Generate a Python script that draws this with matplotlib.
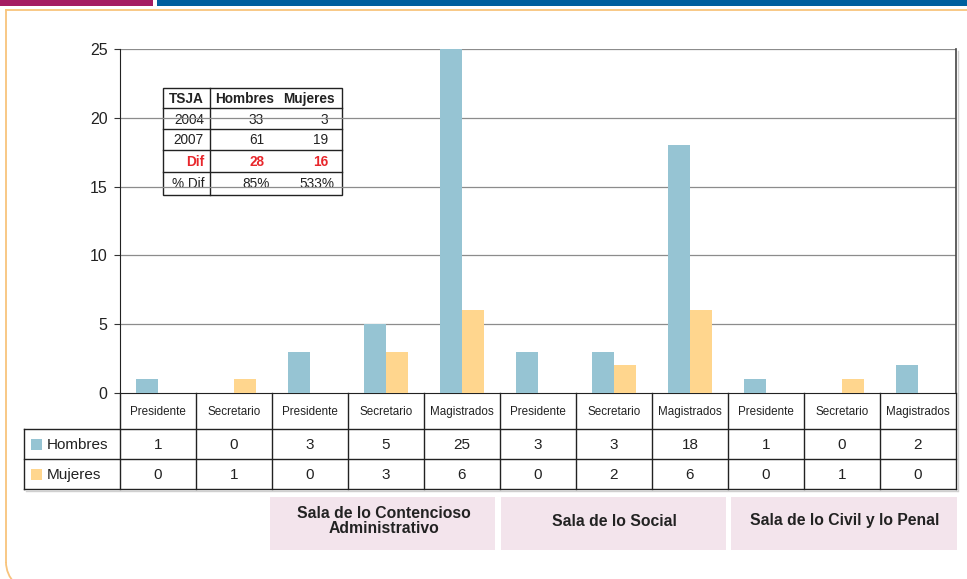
import matplotlib
matplotlib.use("Agg")
import matplotlib.pyplot as plt
from matplotlib.patches import Rectangle, Arc
import numpy as np

# ---------------- data ----------------
categories = ["Presidente", "Secretario", "Presidente", "Secretario", "Magistrados",
              "Presidente", "Secretario", "Magistrados", "Presidente", "Secretario", "Magistrados"]
hombres = [1, 0, 3, 5, 25, 3, 3, 18, 1, 0, 2]
mujeres = [0, 1, 0, 3, 6, 0, 2, 6, 0, 1, 0]
series_names = ["Hombres", "Mujeres"]
salas = ["Sala de lo Contencioso\nAdministrativo", "Sala de lo Social", "Sala de lo Civil y lo Penal"]
yticks = [0, 5, 10, 15, 20, 25]

inset_header = ["TSJA", "Hombres", "Mujeres"]
inset_rows = ["2004", "2007", "Dif", "% Dif"]
inset_h = ["33", "61", "28", "85%"]
inset_m = ["3", "19", "16", "533%"]

# ---------------- style ----------------
C_H = "#96C4D3"
C_M = "#FFD68E"
RED = "#E8272C"
PINK = "#F3E4EC"
SANS = ["Liberation Sans", "DejaVu Sans"]
TXT = "#222222"

W, H = 967, 579
fig = plt.figure(figsize=(W / 100, H / 100), dpi=100)

# overlay in pixel coordinates
ov = fig.add_axes([0, 0, 1, 1], zorder=0)
ov.set_xlim(0, W)
ov.set_ylim(H, 0)
ov.axis("off")

# header bars
ov.add_patch(Rectangle((0, 0), 153, 5.5, color="#A51C62", lw=0))
ov.add_patch(Rectangle((157, 0), W - 157, 5.5, color="#005F9E", lw=0))
# orange frame
OR = "#F8C47C"
r = 30
ov.plot([6, W], [9.5, 9.5], color=OR, lw=1.3)
ov.plot([6, 6], [9.5, 592 - r], color=OR, lw=1.3)
ov.add_patch(Arc((6 + r, 592 - r), 2 * r, 2 * r, theta1=90, theta2=180,
                 color=OR, lw=1.3))

# ---------------- chart axes ----------------
X0, X1, Y0, Y1 = 120, 956, 49, 393
ax = fig.add_axes([X0 / W, (H - Y1) / H, (X1 - X0) / W, (Y1 - Y0) / H], zorder=2)
ax.patch.set_alpha(0)
n = len(categories)
x = np.arange(n)
bw = 0.296
ax.bar(x - bw / 2, hombres, bw, color=C_H, clip_on=False, zorder=3)
ax.bar(x + bw / 2, mujeres, bw, color=C_M, clip_on=False, zorder=3)
ax.set_xlim(-0.5, n - 0.5)
ax.set_ylim(0, 25)
ax.set_yticks(yticks)
ax.set_yticklabels([str(v) for v in yticks], fontfamily=SANS, fontsize=11.5, color=TXT)
ax.set_xticks([])
ax.tick_params(axis="y", direction="out", length=4, width=0.8, pad=5, color="#333333")
for v in yticks[1:]:
    ax.axhline(v, color="#8C8C8C", lw=0.9, zorder=1)
ax.spines["top"].set_visible(False)
ax.spines["left"].set_color(TXT)
ax.spines["bottom"].set_color(TXT)
ax.spines["right"].set_color("#444444")
ax.spines["right"].set_linewidth(1.2)

# ---------------- data table below ----------------
colw = (X1 - X0) / n
R0, R1, R2, R3 = 393, 429, 459, 489
LC = "#222222"
for i in range(n + 1):
    xx = X0 + i * colw
    ov.plot([xx, xx], [R0, R3], color=LC, lw=1)
ov.plot([24, 24], [R1, R3], color=LC, lw=1)
for yy in (R1, R2, R3):
    ov.plot([24, X1], [yy, yy], color=LC, lw=1)
ov.plot([26, X1 + 1], [R3 + 2, R3 + 2], color="#D0D0D0", lw=1)
ov.plot([X1 + 2, X1 + 2], [Y0 + 2, R3 + 2], color="#D0D0D0", lw=1)

for i, c in enumerate(categories):
    cx = X0 + (i + 0.5) * colw
    ov.text(cx, (R0 + R1) / 2 + 1, c, ha="center", va="center",
            fontfamily=SANS, fontsize=8.4, color=TXT)
    ov.text(cx, (R1 + R2) / 2 + 1, str(hombres[i]), ha="center", va="center",
            fontfamily=SANS, fontsize=11, color=TXT)
    ov.text(cx, (R2 + R3) / 2 + 1, str(mujeres[i]), ha="center", va="center",
            fontfamily=SANS, fontsize=11, color=TXT)

for j, (name, col) in enumerate(zip(series_names, [C_H, C_M])):
    yc = (R1 + R2) / 2 if j == 0 else (R2 + R3) / 2
    ov.add_patch(Rectangle((31, yc - 5.5), 11, 11, color=col, lw=0))
    ov.text(47, yc + 1, name, ha="left", va="center", fontfamily=SANS,
            fontsize=11, color=TXT)

# ---------------- sala boxes ----------------
boxes = [(270, 495), (501, 726), (731, 957)]
for (bx0, bx1), label in zip(boxes, salas):
    ov.add_patch(Rectangle((bx0, 497), bx1 - bx0, 53, color=PINK, lw=0))
    ov.text((bx0 + bx1) / 2 + 1, 521, label, ha="center", va="center",
            fontfamily=SANS, fontweight="bold", fontsize=11.3, color=TXT,
            linespacing=0.92)

# ---------------- inset table ----------------
TX0, TX1, TXs = 163, 342, 210
ty = [88, 108, 129, 150, 172, 195]
ov.add_patch(Rectangle((TX0, ty[0]), TX1 - TX0, ty[-1] - ty[0], facecolor="white",
                       edgecolor=LC, lw=1, zorder=3))
for yy in ty[1:-1]:
    ov.plot([TX0, TX1], [yy, yy], color=LC, lw=1, zorder=4)
ov.plot([TXs, TXs], [ty[0], ty[-1]], color=LC, lw=1, zorder=4)

def tt(xp, yp, s, ha, bold=False, color=TXT):
    ov.text(xp, yp, s, ha=ha, va="center", fontfamily=SANS, fontsize=9.8,
            fontweight="bold" if bold else "normal", color=color, zorder=5)

hy = (ty[0] + ty[1]) / 2 + 1
tt(186, hy, inset_header[0], "center", bold=True)
tt(245, hy, inset_header[1], "center", bold=True)
tt(309, hy, inset_header[2], "center", bold=True)
for k, lab in enumerate(inset_rows):
    yc = (ty[k + 1] + ty[k + 2]) / 2 + 1
    is_dif = lab == "Dif"
    col = RED if is_dif else TXT
    tt(204, yc, lab, "right", bold=is_dif, color=col)
    pct = inset_h[k].endswith("%")
    tt(270 if pct else 264, yc, inset_h[k], "right", bold=is_dif, color=col)
    tt(334 if pct else 328, yc, inset_m[k], "right", bold=is_dif, color=col)

fig.savefig("out.png", dpi=100)
